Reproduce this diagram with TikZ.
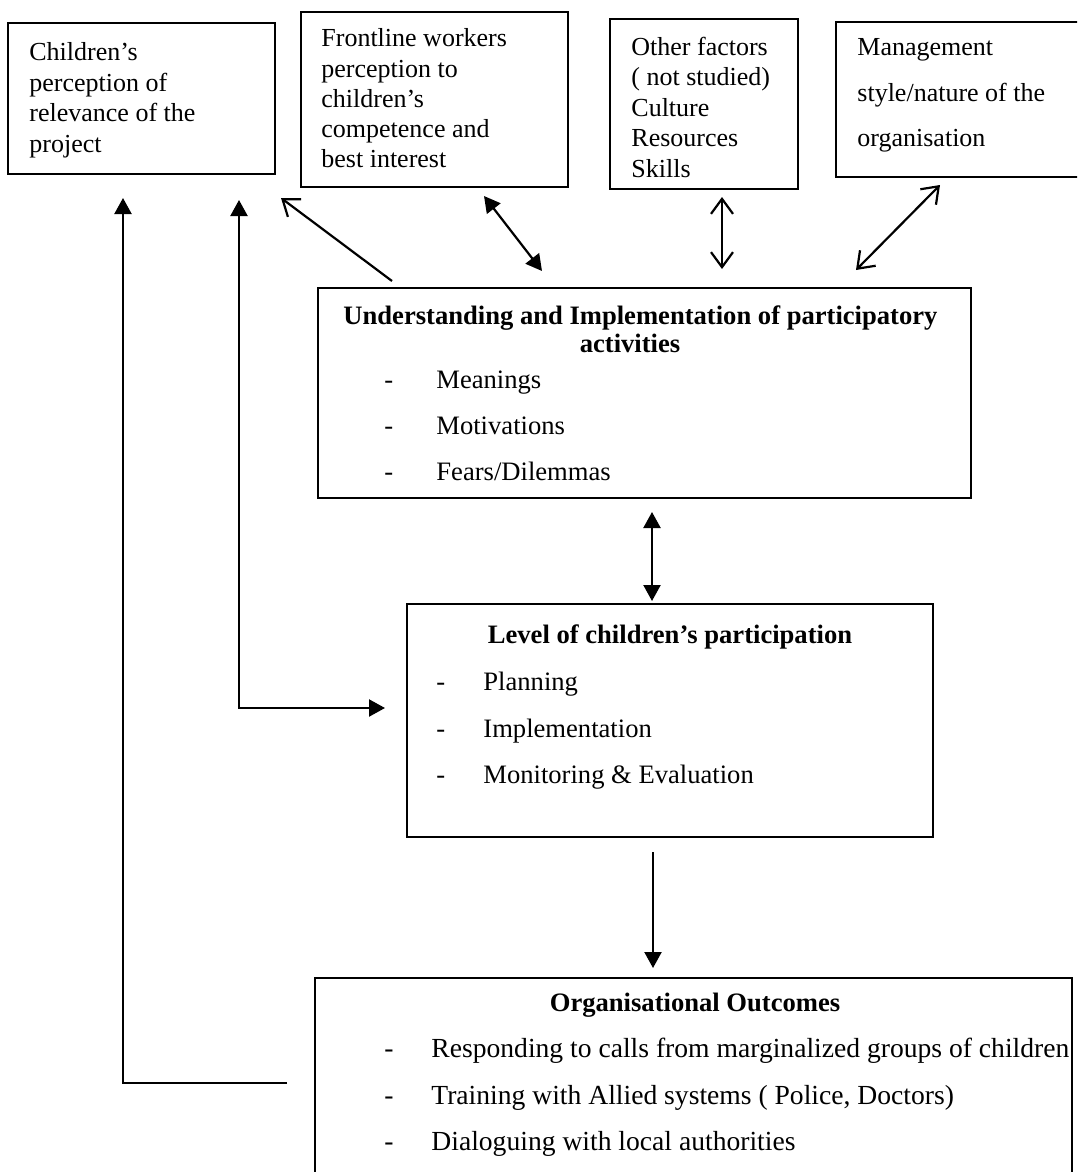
\documentclass[tikz,border=0pt]{standalone}
\usepackage{fontspec}
\setmainfont{Liberation Serif}
\usetikzlibrary{arrows.meta,fit}
\begin{document}
\begin{tikzpicture}[x=0.5pt,y=-0.5pt,
  box/.style={draw, line width=1.1pt, inner sep=0pt},
  txt/.style={anchor=base west, inner sep=0pt, align=left, font=\fontsize{13}{15.25}\selectfont},
  mid/.style={anchor=base west, inner sep=0pt, font=\fontsize{13.3}{15.5}\selectfont},
  ttl/.style={inner sep=0pt, font=\fontsize{13.3}{15.5}\selectfont\bfseries},
  big/.style={anchor=base west, inner sep=0pt, font=\fontsize{13.8}{16}\selectfont},
  conn/.style={line width=1.1pt},
  tri/.tip={Triangle[length=8pt,width=8.5pt]},
  barb/.tip={Straight Barb[length=7.5pt,width=11pt]}
]
\useasboundingbox (0,0) rectangle (1077,1172);
\clip (0,0) rectangle (1077,1172);

% ---- top boxes (multi-line text nodes: base = baseline of last line) ----
\node[box, fit={(8,23) (275,174)}] (b1) {};
\node[txt] (t1) at (29,152) {Children’s\\perception of\\relevance of the\\project};

\node[box, fit={(301,12) (568,187)}] (b2) {};
\node[txt, font=\fontsize{13}{15.15}\selectfont] (t2) at (321,168) {Frontline workers\\perception to\\children’s\\competence and\\best interest};

\node[box, fit={(610,19) (798,189)}] (b3) {};
\node[txt] (t3) at (631,177) {Other factors\\( not studied)\\Culture\\Resources\\Skills};

\node[box, fit={(836,22) (1095,177)}] (b4) {};
\node[txt, font=\fontsize{13}{22.75}\selectfont] (t4) at (857,147) {Management\\style/nature of the\\organisation};

% ---- understanding box ----
\node[box, fit={(318,288) (971,498)}] (b5) {};
\node[ttl, anchor=base west] (u1) at (343,324) {Understanding and Implementation of participatory};
\node[ttl, anchor=base] (u2) at (630,352) {activities};
\node[mid] (ud1) at (384,388) {-};
\node[mid] (ui1) at (436,388) {Meanings};
\node[mid] (ud2) at (384,434) {-};
\node[mid] (ui2) at (436,434) {Motivations};
\node[mid] (ud3) at (384,480) {-};
\node[mid] (ui3) at (436,480) {Fears/Dilemmas};

% ---- level box ----
\node[box, fit={(407,604) (933,837)}] (b6) {};
\node[ttl, anchor=base] (l0) at (670,643) {Level of children’s participation};
\node[mid] (ld1) at (436,690) {-};
\node[mid] (li1) at (483,690) {Planning};
\node[mid] (ld2) at (436,737) {-};
\node[mid] (li2) at (483,737) {Implementation};
\node[mid] (ld3) at (436,783) {-};
\node[mid] (li3) at (483,783) {Monitoring \& Evaluation};

% ---- outcomes box ----
\node[box, fit={(315,978) (1072,1215)}] (b7) {};
\node[ttl, anchor=base] (o0) at (695,1011) {Organisational Outcomes};
\node[big] (od1) at (384,1057) {-};
\node[big] (oi1) at (431,1057) {Responding to calls from marginalized groups of children};
\node[big] (od2) at (384,1104) {-};
\node[big] (oi2) at (431,1104) {Training with Allied systems ( Police, Doctors)};
\node[big] (od3) at (384,1150) {-};
\node[big] (oi3) at (431,1150) {Dialoguing with local authorities};

% ---- connector end points ----
\coordinate (v1top) at (123,198);
\coordinate (v1bot) at (123,1083);
\coordinate (v1end) at (287,1083);
\coordinate (v2top) at (239,200);
\coordinate (v2bot) at (239,708);
\coordinate (v2end) at (385,708);
\coordinate (o1s) at (392,281);
\coordinate (o1t) at (281,198);
\coordinate (f1a) at (484,196);
\coordinate (f1b) at (542,271);
\coordinate (c3a) at (722,197);
\coordinate (c3b) at (722,269);
\coordinate (m4a) at (940,185);
\coordinate (m4b) at (856,270);
\coordinate (ula) at (652,512);
\coordinate (ulb) at (652,601);
\coordinate (loa) at (653,852);
\coordinate (lob) at (653,968);

% ---- connectors ----
\draw[conn, -tri] (v1end) -- (v1bot) -- (v1top);
\draw[conn, tri-tri] (v2top) -- (v2bot) -- (v2end);
\draw[conn, -barb] (o1s) -- (o1t);
\draw[conn, tri-tri] (f1a) -- (f1b);
\draw[conn, barb-barb] (c3a) -- (c3b);
\draw[conn, barb-barb] (m4a) -- (m4b);
\draw[conn, tri-tri] (ula) -- (ulb);
\draw[conn, -tri] (loa) -- (lob);
\end{tikzpicture}
\end{document}
